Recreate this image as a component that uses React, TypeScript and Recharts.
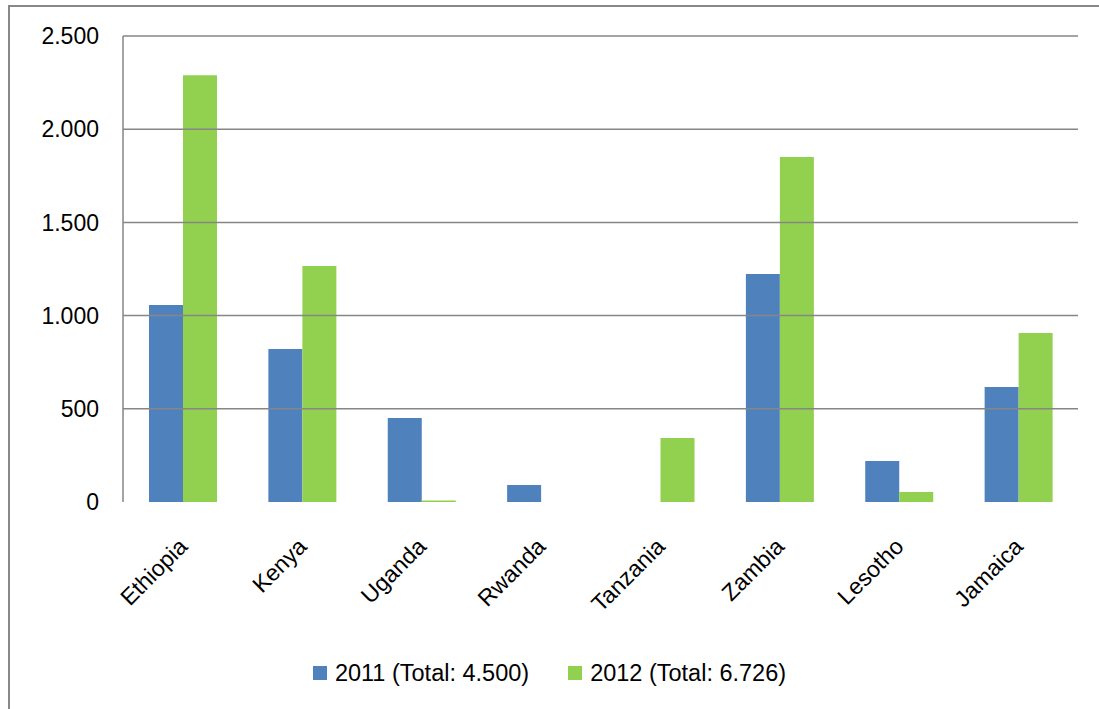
import React from "react";
import { BarChart, Bar, XAxis, YAxis, ReferenceLine, Legend } from "recharts";

const countries = ["Ethiopia", "Kenya", "Uganda", "Rwanda", "Tanzania", "Zambia", "Lesotho", "Jamaica"];
const values2011 = [1057, 821, 451, 91, 0, 1223, 220, 617];
const values2012 = [2290, 1266, 8, 0, 343, 1851, 54, 907];
const yTicks = [0, 500, 1000, 1500, 2000, 2500];
const seriesNames = ["2011 (Total: 4.500)", "2012 (Total: 6.726)"];

const BLUE = "#4F81BD";
const GREEN = "#92D050";
const GRID = "#868686";
const FONT = "'Liberation Sans', Arial, sans-serif";

const data = countries.map((c, i) => ({ country: c, y2011: values2011[i], y2012: values2012[i] }));

const fmt = (v: number) => String(v).replace(/\B(?=(\d{3})+(?!\d))/g, ".");

const XTick = (props: any) => {
  const { x, y, payload } = props;
  const px = x + 6;
  const py = y + 46;
  return (
    <text
      x={px}
      y={py}
      transform={`rotate(-45 ${px} ${py})`}
      textAnchor="end"
      fontSize={23}
      fontFamily={FONT}
      fill="#000"
    >
      {payload.value}
    </text>
  );
};

const LegendBox = () => (
  <div
    style={{
      display: "flex",
      justifyContent: "center",
      alignItems: "center",
      height: 30,
      paddingLeft: 21,
      fontFamily: FONT,
      fontSize: 23.5,
      color: "#000",
    }}
  >
    {seriesNames.map((name, i) => (
      <div key={name} style={{ display: "flex", alignItems: "center", marginLeft: i ? 39 : 0 }}>
        <span style={{ width: 14, height: 14, background: i ? GREEN : BLUE, marginRight: 8 }} />
        <span>{name}</span>
      </div>
    ))}
  </div>
);

export default function App() {
  return (
    <div style={{ position: "fixed", left: 0, top: 0, width: 1099, height: 709, overflow: "hidden", background: "#fff" }}>
      <div
        style={{
          position: "absolute",
          left: 8,
          top: 5,
          width: 1100,
          height: 720,
          border: "2px solid #888",
          boxSizing: "border-box",
        }}
      />
      <div style={{ position: "absolute", left: 0, top: 0 }}>
        <BarChart
          width={1099}
          height={709}
          data={data}
          margin={{ top: 36, right: 21, left: 0, bottom: 21 }}
          barGap={0}
          barSize={34}
        >
          <XAxis
            dataKey="country"
            axisLine={false}
            tickLine={false}
            tickSize={0}
            tickMargin={0}
            height={156}
            interval={0}
            tick={<XTick />}
          />
          <YAxis
            width={123}
            domain={[0, 2500]}
            ticks={yTicks}
            tickFormatter={fmt}
            axisLine={{ stroke: GRID, strokeWidth: 1.5 }}
            tickLine={false}
            tickSize={0}
            tickMargin={24}
            tick={{ fontSize: 23, fontFamily: FONT, fill: "#000" }}
          />
          {yTicks
            .filter((t) => t > 0)
            .map((t) => (
              <ReferenceLine key={t} y={t} stroke={GRID} strokeWidth={1.5} />
            ))}
          <Bar dataKey="y2011" name={seriesNames[0]} fill={BLUE} isAnimationActive={false} />
          <Bar dataKey="y2012" name={seriesNames[1]} fill={GREEN} isAnimationActive={false} />
          <Legend verticalAlign="bottom" content={<LegendBox />} />
        </BarChart>
      </div>
    </div>
  );
}
